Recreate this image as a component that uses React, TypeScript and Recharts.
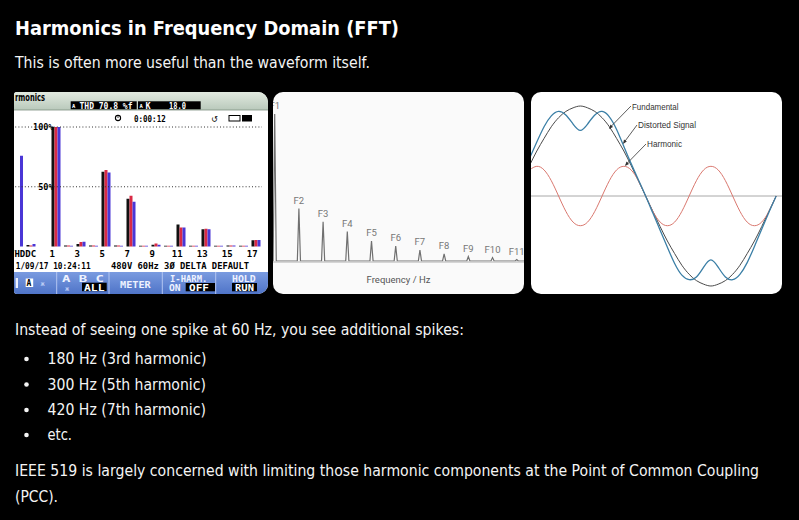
import React from "react";
import {
  BarChart,
  Bar,
  XAxis,
  YAxis,
  ReferenceLine,
  LineChart,
  Line,
  LabelList,
  Label,
} from "recharts";

// ---------- Panel 1: analyser harmonic spectrum (% of fundamental) ----------
const harmonicCats = ["THD", "DC", " ", "1", "2", "3", "4", "5", "6", "7", "8", "9", "10", "11", "12", "13", "14", "15", "16", "17"];
const phaseA = [0, 1.2, 0, 100, 0.8, 2, 0.8, 62.5, 0.8, 40, 0.7, 1.5, 0.6, 18.5, 0.6, 14.4, 0.6, 0.8, 0.6, 5.2];
const phaseB = [0, 0.8, 0, 100, 0.8, 3.8, 0.8, 64, 0.8, 42.5, 0.7, 2.5, 0.6, 16, 0.6, 14.9, 0.6, 0.8, 0.6, 5.5];
const phaseC = [76, 2, 0, 100, 0.6, 4, 0.6, 62, 0.6, 37.5, 0.6, 1.5, 0.6, 16, 0.6, 14.4, 0.6, 0.8, 0.6, 5.5];
const labelledHarmonics = ["THD", "DC", "1", "3", "5", "7", "9", "11", "13", "15", "17"];

// ---------- Panel 2: FFT spikes ----------
const spectrumOrders = [1, 2, 3, 4, 5, 6, 7, 8, 9, 10, 11];
const spectrumAmps = [1, 0.356, 0.267, 0.2, 0.136, 0.102, 0.075, 0.048, 0.03, 0.023, 0.01];
const spectrumNames = ["F1", "F2", "F3", "F4", "F5", "F6", "F7", "F8", "F9", "F10", "F11"];

// ---------- Panel 3: waveforms (phase angle of the fundamental, degrees) ----------
const phaseAngle = [20, 30, 40, 50, 60, 70, 80, 90, 100, 110, 120, 130, 140, 150, 160, 170, 180, 190, 200, 210, 220, 230, 240, 250, 260, 270, 280, 290, 300, 310, 320, 330, 340, 350, 360];
const fundamental = [0.34, 0.5, 0.64, 0.77, 0.87, 0.94, 0.98, 1.0, 0.98, 0.94, 0.87, 0.77, 0.64, 0.5, 0.34, 0.17, 0.0, -0.17, -0.34, -0.5, -0.64, -0.77, -0.87, -0.94, -0.98, -1.0, -0.98, -0.94, -0.87, -0.77, -0.64, -0.5, -0.34, -0.17, 0.0];
const harmonic = [0.29, 0.33, 0.29, 0.17, 0.0, -0.17, -0.29, -0.33, -0.29, -0.17, 0.0, 0.17, 0.29, 0.33, 0.29, 0.17, 0.0, -0.17, -0.29, -0.33, -0.29, -0.17, 0.0, 0.17, 0.29, 0.33, 0.29, 0.17, 0.0, -0.17, -0.29, -0.33, -0.29, -0.17, 0.0];
const distorted = [0.42, 0.6, 0.77, 0.89, 0.94, 0.9, 0.8, 0.73, 0.8, 0.9, 0.94, 0.88, 0.74, 0.55, 0.36, 0.18, 0.0, -0.19, -0.38, -0.57, -0.75, -0.88, -0.93, -0.9, -0.79, -0.71, -0.79, -0.9, -0.93, -0.87, -0.74, -0.56, -0.37, -0.18, 0.0];

// ---------- Page text ----------
const titleText = "Harmonics in Frequency Domain (FFT)";
const introText = "This is often more useful than the waveform itself.";
const spikesText = "Instead of seeing one spike at 60 Hz, you see additional spikes:";
const bulletItems = ["180 Hz (3rd harmonic)", "300 Hz (5th harmonic)", "420 Hz (7th harmonic)", "etc."];
const ieeeLine1 = "IEEE 519 is largely concerned with limiting those harmonic components at the Point of Common Coupling";
const ieeeLine2 = "(PCC).";

const flukeRows = harmonicCats.map((h, i) => ({ h, a: phaseA[i], b: phaseB[i], c: phaseC[i] }));

const spikeHalfWidth = 0.065;
const spectrumRows: any[] = [{ f: 0.5, amp: 0 }];
spectrumOrders.forEach((k, i) => {
  spectrumRows.push({ f: k - spikeHalfWidth, amp: 0 });
  spectrumRows.push({ f: k, amp: spectrumAmps[i], name: spectrumNames[i] });
  spectrumRows.push({ f: k + spikeHalfWidth, amp: 0 });
});
spectrumRows.push({ f: 12, amp: 0 });

const waveRows = phaseAngle.map((t, i) => ({
  t,
  fundamental: fundamental[i],
  harmonic: harmonic[i],
  distorted: distorted[i],
}));

const MONO = "'DejaVu Sans Mono', monospace";
const PAGE_FONT = "'DejaVu Sans', sans-serif";

const FlukeTick = (props: any) => {
  const { x, y, payload } = props;
  const v = payload.value;
  if (!labelledHarmonics.includes(v)) return null;
  let tx = x - 3.5;
  let anchor: any = "middle";
  if (v === "THD") {
    tx = x + 7;
    anchor = "end";
  } else if (v === "DC") {
    tx = x - 5.5;
    anchor = "start";
  }
  return (
    <text x={tx} y={y + 10.5} textAnchor={anchor} fontFamily={MONO} fontWeight="bold" fontSize={9} fill="#000">
      {v}
    </text>
  );
};

const GridPct = (props: any) => {
  const { viewBox, text } = props;
  return (
    <text x={viewBox.x + 41.5} y={viewBox.y + 3.3} textAnchor="end" fontFamily={MONO} fontWeight="bold" fontSize={8.5} fill="#000">
      {text}
    </text>
  );
};

const SpikeLabel = (props: any) => {
  const { x, y, value } = props;
  if (!value) return null;
  return (
    <text x={x} y={y - 5} textAnchor="middle" fontFamily="Roboto, sans-serif" fontSize={9.5} fill="#777">
      {value}
    </text>
  );
};

const panelBase: React.CSSProperties = {
  position: "absolute",
  top: 92,
  height: 202,
  overflow: "hidden",
  borderRadius: 10,
};

function FlukePanel() {
  const w = { fontFamily: MONO, fontWeight: "bold" as any, fill: "#fff" };
  const k = { fontFamily: MONO, fontWeight: "bold" as any, fill: "#000" };
  return (
    <div style={{ ...panelBase, left: 14, width: 254, background: "#fff", borderRadius: "3px 10px 10px 3px" }}>
      <div style={{ position: "absolute", left: -2.25, top: 0 }}>
        <BarChart
          width={250}
          height={168.5}
          data={flukeRows}
          margin={{ top: 35, right: 0, bottom: 0, left: 0 }}
          barGap={0}
          barSize={3}
        >
          <XAxis dataKey="h" interval={0} tickLine={false} axisLine={false} height={14} tickSize={0} tickMargin={0} tick={FlukeTick} />
          <YAxis hide domain={[0, 100]} />
          <ReferenceLine y={100} stroke="#333" strokeDasharray="1 2.2" label={<GridPct text="100%" />} />
          <ReferenceLine y={50} stroke="#333" strokeDasharray="1 2.2" label={<GridPct text="50%" />} />
          <Bar dataKey="a" fill="#111" isAnimationActive={false} />
          <Bar dataKey="b" fill="#d92a45" isAnimationActive={false} />
          <Bar dataKey="c" fill="#4a36d6" isAnimationActive={false} />
        </BarChart>
      </div>
      <svg width={254} height={202} style={{ position: "absolute", left: 0, top: 0 }}>
        <defs>
          <linearGradient id="flBand" x1="0" y1="0" x2="0" y2="1">
            <stop offset="0" stopColor="#e2eae0" />
            <stop offset="1" stopColor="#b9c9bb" />
          </linearGradient>
          <linearGradient id="flBlue" x1="0" y1="0" x2="0" y2="1">
            <stop offset="0" stopColor="#7a9be0" />
            <stop offset="1" stopColor="#4f74c8" />
          </linearGradient>
        </defs>
        <rect x={0} y={0} width={254} height={18} fill="url(#flBand)" />
        <line x1={0} y1={18} x2={254} y2={18} stroke="#7f8f80" strokeWidth={0.8} />
        <text x={1} y={8.5} textLength={30} lengthAdjust="spacingAndGlyphs" fontSize={10} fontFamily={PAGE_FONT} fontWeight="bold" fill="#000">rmonics</text>
        <rect x={56.7} y={9.3} width={66} height={8} fill="#000" />
        <rect x={124} y={9.3} width={62.7} height={8} fill="#000" />
        <text x={58} y={15.5} fontSize={5.5} {...w}>A</text>
        <text x={65.5} y={16.5} fontSize={8.5} textLength={53} lengthAdjust="spacingAndGlyphs" {...w}>THD 70.8 %f</text>
        <text x={125.5} y={15.5} fontSize={5.5} {...w}>A</text>
        <text x={131.5} y={16.5} fontSize={8.5} {...w}>K</text>
        <text x={155} y={16.5} fontSize={8.5} textLength={17} lengthAdjust="spacingAndGlyphs" {...w}>18.0</text>
        <circle cx={104} cy={26} r={2.6} fill="none" stroke="#000" strokeWidth={1.1} />
        <line x1={104} y1={26} x2={104} y2={24.3} stroke="#000" strokeWidth={0.8} />
        <text x={120} y={29.5} fontSize={8.5} textLength={31.7} lengthAdjust="spacingAndGlyphs" {...k}>0:00:12</text>
        <text x={197} y={29.5} fontSize={8} fontFamily={PAGE_FONT} fill="#000">↺</text>
        <rect x={215} y={23.5} width={11} height={5.5} fill="none" stroke="#000" strokeWidth={1} />
        <rect x={228} y={23} width={10} height={6.5} fill="#000" />
        <text x={1.7} y={177.3} fontSize={8.5} textLength={75} lengthAdjust="spacingAndGlyphs" {...k}>1/09/17 10:24:11</text>
        <text x={97} y={177.3} fontSize={8.5} textLength={138} lengthAdjust="spacingAndGlyphs" {...k}>480V 60Hz 3Ø DELTA DEFAULT</text>
        <rect x={0} y={180} width={254} height={22} fill="url(#flBlue)" />
        {[42.7, 95, 148.3, 201.7].map((dx) => (
          <line key={dx} x1={dx} y1={180} x2={dx} y2={202} stroke="#b3c6f2" strokeWidth={1} />
        ))}
        <rect x={1.7} y={186} width={2.3} height={10} fill="#eef2ff" />
        <rect x={11.7} y={186.5} width={7.5} height={8.5} fill="#fff" />
        <text x={12.6} y={194} fontSize={8} {...k}>A</text>
        <text x={26.5} y={194} fontSize={7} fontFamily={MONO} fill="#c9d6fa">ж</text>
        <text x={48} y={189.5} fontSize={8} textLength={42} lengthAdjust="spacingAndGlyphs" {...w} fill="#eef2ff">A  B  C</text>
        <text x={51} y={199} fontSize={7} fontFamily={MONO} fill="#c9d6fa">ж</text>
        <rect x={68} y={190.7} width={24.7} height={8.5} fill="#000" />
        <text x={70} y={198.5} fontSize={8.5} textLength={20.5} lengthAdjust="spacingAndGlyphs" {...w}>ALL</text>
        <text x={106} y={196} fontSize={8.5} textLength={30.7} lengthAdjust="spacingAndGlyphs" {...w} fill="#eef2ff">METER</text>
        <text x={156} y={189.5} fontSize={8.5} textLength={37.3} lengthAdjust="spacingAndGlyphs" {...w} fill="#eef2ff">I-HARM.</text>
        <text x={155} y={198.8} fontSize={8.5} textLength={11.7} lengthAdjust="spacingAndGlyphs" {...w} fill="#eef2ff">ON</text>
        <rect x={171.7} y={191} width={29.3} height={8.3} fill="#000" />
        <text x={175} y={198.8} fontSize={8.5} textLength={20} lengthAdjust="spacingAndGlyphs" {...w}>OFF</text>
        <text x={218} y={189.5} fontSize={8.5} textLength={23.7} lengthAdjust="spacingAndGlyphs" {...w} fill="#eef2ff">HOLD</text>
        <rect x={218} y={191} width={25} height={8.3} fill="#000" />
        <text x={221} y={198.8} fontSize={8.5} textLength={19} lengthAdjust="spacingAndGlyphs" {...w}>RUN</text>
      </svg>
    </div>
  );
}

function SpectrumPanel() {
  return (
    <div style={{ ...panelBase, left: 273, width: 251, background: "#fafafa" }}>
      <LineChart width={251} height={202} data={spectrumRows} margin={{ top: 0, right: 0, bottom: 0, left: 0 }}>
        <XAxis
          type="number"
          dataKey="f"
          domain={[0.93, 11.3]}
          allowDataOverflow
          tick={false}
          tickLine={false}
          height={32}
          axisLine={{ stroke: "#c8c8c8", strokeWidth: 1.6 }}
        >
          <Label value="Frequency / Hz" position="insideBottom" offset={11} fill="#555" fontSize={9.5} fontFamily="Roboto, sans-serif" />
        </XAxis>
        <YAxis hide domain={[-0.0068, 1.149]} allowDataOverflow />
        <Line dataKey="amp" type="linear" stroke="#707070" strokeWidth={1.2} dot={false} isAnimationActive={false}>
          <LabelList dataKey="name" content={SpikeLabel} />
        </Line>
      </LineChart>
    </div>
  );
}

function WavePanel() {
  const ann = { fontFamily: "'Liberation Sans', Arial, sans-serif", fontSize: 8.5, fill: "#333" };
  return (
    <div style={{ ...panelBase, left: 531, width: 251, background: "#fff" }}>
      <LineChart width={251} height={202} data={waveRows} margin={{ top: 0, right: 0, bottom: 0, left: 0 }}>
        <XAxis type="number" dataKey="t" domain={[22, 368]} hide allowDataOverflow />
        <YAxis hide domain={[-1.089, 1.156]} allowDataOverflow />
        <ReferenceLine y={0} stroke="#a8a8a8" strokeWidth={1} />
        <Line dataKey="fundamental" type="natural" stroke="#4a4a4a" strokeWidth={1} dot={false} isAnimationActive={false} />
        <Line dataKey="harmonic" type="natural" stroke="#d9786f" strokeWidth={1} dot={false} isAnimationActive={false} />
        <Line dataKey="distorted" type="natural" stroke="#3b7fa6" strokeWidth={1.3} dot={false} isAnimationActive={false} />
      </LineChart>
      <svg width={251} height={202} style={{ position: "absolute", left: 0, top: 0 }}>
        <line x1={100} y1={14} x2={79} y2={35.5} stroke="#333" strokeWidth={0.8} />
        <polygon points="78,37 79.5,32.5 82,35" fill="#333" />
        <text x={101} y={17.5} textLength={46.5} lengthAdjust="spacingAndGlyphs" {...ann}>Fundamental</text>
        <line x1={106} y1={33} x2={93} y2={50.5} stroke="#333" strokeWidth={0.8} />
        <polygon points="92,52 93,47.5 95.8,49.5" fill="#333" />
        <text x={107} y={36} textLength={58} lengthAdjust="spacingAndGlyphs" {...ann}>Distorted Signal</text>
        <line x1={115} y1={52} x2={95} y2={72.5} stroke="#333" strokeWidth={0.8} />
        <polygon points="94,74 95.5,69.5 98,72" fill="#333" />
        <text x={116} y={54.5} textLength={35} lengthAdjust="spacingAndGlyphs" {...ann}>Harmonic</text>
      </svg>
    </div>
  );
}

export default function App() {
  const body = { fontFamily: PAGE_FONT, fontSize: 15.5, fill: "#f4f4f4" };
  const bulletBase = [364, 389.5, 415, 440];
  const bulletWidths = [159, 158.5, 158.5, 24.5];
  return (
    <div style={{ position: "absolute", left: 0, top: 0, width: 799, height: 520, background: "#000", overflow: "hidden" }}>
      <svg width={799} height={520} style={{ position: "absolute", left: 0, top: 0 }}>
        <text x={15} y={35} fontFamily={PAGE_FONT} fontWeight="bold" fontSize={19.5} fill="#fff" textLength={384} lengthAdjust="spacingAndGlyphs">
          {titleText}
        </text>
        <text x={15} y={68} textLength={355} lengthAdjust="spacingAndGlyphs" {...body}>{introText}</text>
        <text x={15} y={335} textLength={449} lengthAdjust="spacingAndGlyphs" {...body}>{spikesText}</text>
        {bulletItems.map((b, i) => (
          <g key={b}>
            <circle cx={26.5} cy={bulletBase[i] - 5} r={2.3} fill="#f4f4f4" />
            <text x={47.5} y={bulletBase[i]} textLength={bulletWidths[i]} lengthAdjust="spacingAndGlyphs" {...body}>{b}</text>
          </g>
        ))}
        <g transform="translate(15,476) scale(1,1.25)">
          <text x={0} y={0} fontSize={12} textLength={744} lengthAdjust="spacingAndGlyphs" fontFamily={PAGE_FONT} fill="#f4f4f4">{ieeeLine1}</text>
        </g>
        <text x={15} y={502} textLength={43} lengthAdjust="spacingAndGlyphs" {...body}>{ieeeLine2}</text>
      </svg>
      <FlukePanel />
      <SpectrumPanel />
      <WavePanel />
    </div>
  );
}
